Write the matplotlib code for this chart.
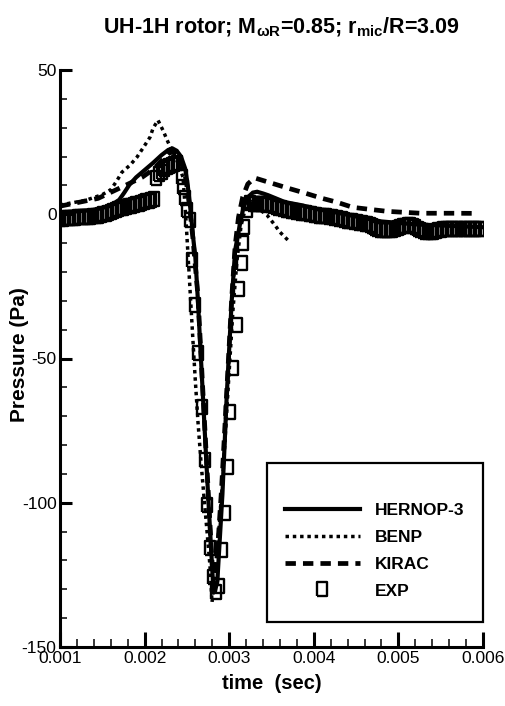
import matplotlib
matplotlib.use('Agg')
import matplotlib.pyplot as plt
from matplotlib import font_manager as fm
from matplotlib.patches import Rectangle
from matplotlib.lines import Line2D
from matplotlib.ticker import MultipleLocator


def pick(names):
    for n in names:
        try:
            fm.findfont(fm.FontProperties(family=n), fallback_to_default=False)
            return n
        except Exception:
            pass
    return 'DejaVu Sans'


NARROW = pick(['Liberation Sans Narrow', 'Liberation Sans', 'DejaVu Sans'])
WIDE = pick(['Liberation Sans', 'DejaVu Sans'])

plt.rcParams['font.family'] = [NARROW, 'DejaVu Sans']
plt.rcParams['mathtext.fontset'] = 'custom'
plt.rcParams['mathtext.rm'] = NARROW + ':bold'
plt.rcParams['mathtext.it'] = NARROW + ':bold'
plt.rcParams['mathtext.bf'] = NARROW + ':bold'

# ---------------- data ----------------
title = r'UH-1H rotor; M$_{\omega R}$=0.85; r$_{mic}$/R=3.09'
x_label = 'time  (sec)'
y_label = 'Pressure (Pa)'
series_names = ['HERNOP-3', 'BENP', 'KIRAC', 'EXP']
x_ticks = [0.001, 0.002, 0.003, 0.004, 0.005, 0.006]
y_ticks = [-150, -100, -50, 0, 50]

hernop_t = [0.00100, 0.00120, 0.00140, 0.00160, 0.00170, 0.00176, 0.00182, 0.00190,
            0.00200, 0.00210, 0.00220, 0.00228, 0.00233, 0.00238, 0.00243, 0.00248,
            0.00251, 0.00255, 0.00257, 0.00260, 0.00263, 0.00269, 0.00275, 0.00281,
            0.00283, 0.00286, 0.00292, 0.00297, 0.00303, 0.00307, 0.00313, 0.00317,
            0.00322, 0.00328, 0.00333, 0.00340, 0.00346, 0.00366, 0.00386, 0.00405,
            0.00425, 0.00445, 0.00480, 0.00520, 0.00560, 0.00600]
hernop_p = [0.5, 1.0, 1.5, 3.0, 5.0, 7.5, 10.2, 12.8,
            15.3, 17.8, 20.5, 22.3, 22.8, 22.0, 20.0, 15.8,
            10.0, -0.5, -7.0, -15.0, -29.8, -63.4, -97.0, -128.5,
            -131.0, -127.0, -97.0, -63.4, -29.8, -12.5, -3.0, 2.5,
            5.9, 7.5, 7.8, 7.2, 6.6, 4.2, 3.1, 1.7,
            0.7, -0.5, -2.5, -3.5, -4.0, -4.5]

benp_t = [0.00100, 0.00130, 0.00150, 0.00160, 0.00167, 0.001733, 0.001827, 0.00191,
          0.00198, 0.002064, 0.00210, 0.002158, 0.002217, 0.002277, 0.002336, 0.002395,
          0.002454, 0.002489, 0.002525, 0.00256, 0.002596, 0.002631, 0.002667, 0.002702,
          0.002738, 0.002773, 0.002797, 0.002856, 0.002891, 0.002927, 0.002986, 0.003009,
          0.003045, 0.003092, 0.00314, 0.003199, 0.003246, 0.003305, 0.003364, 0.003447,
          0.003541, 0.00360, 0.003695]
benp_p = [3.2, 4.8, 6.8, 8.5, 11.5, 14.6, 17.0, 19.8,
          22.9, 26.7, 29.8, 32.6, 29.1, 25.0, 21.5, 17.7,
          12.8, -2.0, -20.0, -38.0, -56.0, -72.0, -86.0, -98.0,
          -110.0, -122.0, -134.5, -116.5, -105.0, -90.0, -61.0, -50.0,
          -33.0, -16.0, -4.0, 3.0, 5.5, 4.0, 1.5, -0.3,
          -3.8, -6.2, -9.0]

kirac_t = [0.00100, 0.00145, 0.00173, 0.00197, 0.00210, 0.00220, 0.00228, 0.00234,
           0.00239, 0.00244, 0.00249, 0.00253, 0.00257, 0.00263, 0.00269, 0.00275,
           0.00280, 0.00282, 0.00285, 0.00291, 0.00297, 0.00303, 0.00307, 0.00311,
           0.00316, 0.00322, 0.00330, 0.00351, 0.00370, 0.00390, 0.00410, 0.00427,
           0.00446, 0.00466, 0.00487, 0.00505, 0.00526, 0.00546, 0.00565, 0.00594]
kirac_p = [2.8, 5.5, 9.4, 12.8, 15.5, 18.5, 21.0, 21.8,
           20.5, 17.5, 12.0, 3.0, -8.0, -28.0, -62.0, -95.0,
           -122.0, -125.0, -122.0, -95.0, -62.0, -29.0, -11.0, -1.0,
           6.0, 10.5, 12.6, 10.7, 9.0, 7.3, 5.5, 4.2,
           2.4, 1.7, 1.0, 0.7, 0.35, 0.35, 0.35, 0.3]

exp_t = [0.00100, 0.00103, 0.00106, 0.00109, 0.00112, 0.00115, 0.00118, 0.00121,
         0.00124, 0.00127, 0.00130, 0.00133, 0.00136, 0.00139, 0.00142, 0.00145,
         0.00148, 0.00151, 0.00154, 0.00157, 0.00160, 0.00163, 0.00166, 0.00169,
         0.00172, 0.00175, 0.00178, 0.00181, 0.00184, 0.00187, 0.00190, 0.00193,
         0.00196, 0.00199, 0.00202, 0.00205, 0.00208, 0.00211,
         0.00214, 0.00217, 0.00220, 0.00223, 0.00226, 0.00229, 0.00232, 0.00235,
         0.00238, 0.002442, 0.002454, 0.002478, 0.002501, 0.002537, 0.00256, 0.002596,
         0.002631, 0.002678, 0.002714, 0.002738, 0.002773, 0.002808, 0.002844, 0.00288,
         0.002915, 0.00295, 0.002986, 0.003009, 0.003045, 0.003092, 0.003116, 0.003151,
         0.003163, 0.003175, 0.00321, 0.003246,
         0.00328, 0.00331, 0.00334, 0.00337, 0.00340, 0.00343, 0.00346, 0.00349,
         0.00352, 0.00355, 0.00358, 0.00361, 0.00364, 0.00367, 0.00370, 0.00373,
         0.00376, 0.00379, 0.00382, 0.00385, 0.00388, 0.00391, 0.00394, 0.00397,
         0.00400, 0.00403, 0.00406, 0.00409, 0.00412, 0.00415, 0.00418, 0.00421,
         0.00424, 0.00427, 0.00430, 0.00433, 0.00436, 0.00439, 0.00442, 0.00445,
         0.00448, 0.00451, 0.00454, 0.00457, 0.00460, 0.00463, 0.00466, 0.00469,
         0.00472, 0.00475, 0.00478, 0.00481, 0.00484, 0.00487, 0.00490, 0.00493,
         0.00496, 0.00499, 0.00502, 0.00505, 0.00508, 0.00511, 0.00514, 0.00517,
         0.00520, 0.00523, 0.00526, 0.00529, 0.00532, 0.00535, 0.00538, 0.00541,
         0.00544, 0.00547, 0.00550, 0.00553, 0.00556, 0.00559, 0.00562, 0.00565,
         0.00568, 0.00571, 0.00574, 0.00577, 0.00580, 0.00583, 0.00586, 0.00589,
         0.00592, 0.00595, 0.00598]
exp_p = [-1.6, -1.5, -1.45, -1.4, -1.3, -1.25, -1.2, -1.1,
         -1.1, -1.0, -1.0, -0.9, -0.8, -0.75, -0.7, -0.5,
         -0.3, -0.05, 0.2, 0.5, 0.8, 1.1, 1.4, 1.7,
         2.0, 2.2, 2.4, 2.7, 3.0, 3.2, 3.5, 3.7,
         4.0, 4.2, 4.5, 4.7, 4.9, 5.2,
         12.5, 13.8, 14.8, 15.6, 16.3, 16.8, 17.2, 17.5,
         17.7, 12.8, 9.4, 5.5, 1.4, -2.0, -16.0, -31.5,
         -48.2, -66.9, -85.3, -100.9, -115.8, -125.8, -131.0, -129.0,
         -116.5, -103.6, -87.7, -68.6, -53.4, -38.5, -26.0, -17.0,
         -10.0, -4.5, 1.4, 3.8,
         3.4, 3.4, 3.6, 3.7, 3.6, 3.5, 3.3, 3.1,
         2.8, 2.5, 2.2, 2.0, 1.8, 1.55, 1.35, 1.2,
         1.05, 0.9, 0.75, 0.6, 0.45, 0.3, 0.15, 0.0,
         -0.15, -0.35, -0.5, -0.6, -0.7, -0.75, -0.85, -1.0,
         -1.15, -1.35, -1.55, -1.8, -2.0, -2.2, -2.35, -2.5,
         -2.65, -2.8, -2.95, -3.1, -3.25, -3.4, -3.7, -4.2,
         -4.7, -5.0, -5.3, -5.5, -5.6, -5.55, -5.45, -5.3,
         -5.05, -4.8, -4.5, -4.2, -3.95, -3.8, -3.8, -4.0,
         -4.4, -5.0, -5.4, -5.8, -6.05, -6.2, -6.15, -6.0,
         -5.75, -5.5, -5.35, -5.2, -5.1, -5.05, -5.0, -5.0,
         -5.05, -5.15, -5.2, -5.2, -5.2, -5.15, -5.1, -5.0,
         -5.0, -5.0, -5.0]

# ---------------- styles ----------------
SQ = [(-0.35, -0.5), (0.35, -0.5), (0.35, 0.5), (-0.35, 0.5), (-0.35, -0.5)]
solid_kw = dict(color='black', lw=3.0, ls='-', solid_joinstyle='miter')
dot_kw = dict(color='black', lw=2.5, ls=(0, (1.0, 1.1)), dash_capstyle='butt')
dash_kw = dict(color='black', lw=3.4, ls=(0, (2.2, 1.5)), dash_capstyle='butt')
exp_kw = dict(ls='none', marker=SQ, ms=9.5, mfc='none', mec='black', mew=1.7)

fig = plt.figure(figsize=(5.06, 7.06), dpi=100)
ax = fig.add_axes([60 / 506, 1 - 647 / 706, 423 / 506, 577 / 706])

ax.plot(hernop_t, hernop_p, **solid_kw)
ax.plot(benp_t, benp_p, **dot_kw)
ax.plot(kirac_t, kirac_p, **dash_kw)
ax.plot(exp_t, exp_p, **exp_kw)

ax.set_xlim(0.001, 0.006)
ax.set_ylim(-150, 50)
ax.set_xticks(x_ticks)
ax.set_xticklabels(['%.3f' % v for v in x_ticks])
ax.set_yticks(y_ticks)
ax.set_yticklabels(['%d' % v for v in y_ticks])
ax.xaxis.set_minor_locator(MultipleLocator(0.0002))
ax.yaxis.set_minor_locator(MultipleLocator(10))

for s in ['top', 'right']:
    ax.spines[s].set_visible(False)
for s in ['left', 'bottom']:
    ax.spines[s].set_linewidth(2.2)

ax.tick_params(axis='x', which='major', direction='in', length=10.5, width=2.2,
               labelsize=12.5, pad=3.0)
ax.tick_params(axis='x', which='minor', direction='in', length=5.5, width=1.1)
ax.tick_params(axis='y', which='major', direction='in', length=8.5, width=2.2,
               labelsize=12.5, pad=2.5)
ax.tick_params(axis='y', which='minor', direction='in', length=5.0, width=1.1)

ax.set_xlabel(x_label, fontsize=14.5, fontweight='bold', family=[NARROW, 'DejaVu Sans'])
ax.xaxis.set_label_coords(0.5, -0.046)
ax.set_ylabel(y_label, fontsize=15, fontweight='bold', family=[WIDE, 'DejaVu Sans'])
ax.yaxis.set_label_coords(-0.096, 0.506)
ax.yaxis.label.set_verticalalignment('center')

fig.text(281 / 506, 1 - 33 / 706, title, ha='center', va='baseline',
         fontsize=15.5, fontweight='bold')

# legend
ax.add_patch(Rectangle((207 / 423, 25 / 577), 216 / 423, 159 / 577,
                       transform=ax.transAxes, fill=False, lw=1.6,
                       edgecolor='black', zorder=5, clip_on=False))
handles = [Line2D([], [], **solid_kw), Line2D([], [], **dot_kw),
           Line2D([], [], **dash_kw), Line2D([], [], **exp_kw)]
leg = ax.legend(handles, series_names, loc='upper left',
                bbox_to_anchor=(225 / 423, 144 / 577), frameon=False,
                borderpad=0, borderaxespad=0, handlelength=4.3,
                handletextpad=0.85, labelspacing=0.67,
                prop=dict(family=[NARROW, 'DejaVu Sans'], weight='bold', size=12.5))

fig.savefig('out.png', dpi=100)
